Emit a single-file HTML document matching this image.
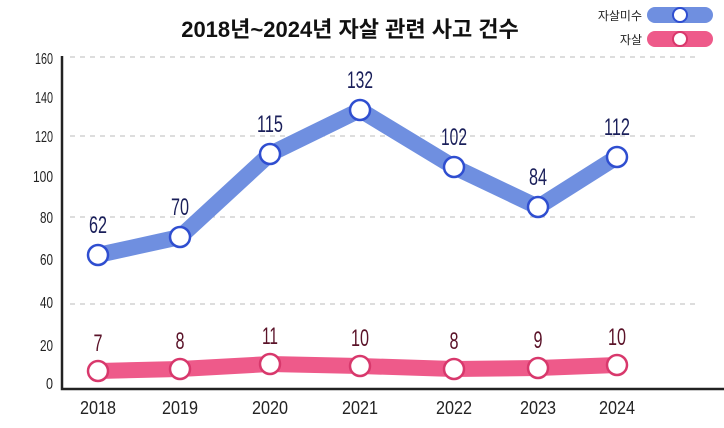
<!DOCTYPE html>
<html><head><meta charset="utf-8"><style>
body{margin:0;background:#fff;width:724px;height:423px;overflow:hidden}
text{font-family:"Liberation Sans Narrow","Liberation Sans","Noto Sans CJK KR",sans-serif}
</style></head><body>
<svg width="724" height="423" xmlns="http://www.w3.org/2000/svg">
<text x="350" y="37" text-anchor="middle" font-size="22" font-weight="bold" fill="#111" style="font-family:'Liberation Sans','Noto Sans CJK KR',sans-serif">2018년~2024년 자살 관련 사고 건수</text>
<g stroke="#bbb" stroke-width="1" stroke-dasharray="5,5">
<line x1="70" y1="57" x2="700" y2="57"/>
<line x1="70" y1="136" x2="700" y2="136"/>
<line x1="70" y1="217" x2="700" y2="217"/>
<line x1="70" y1="304" x2="700" y2="304"/>
</g>
<polyline points="62,56 62,389 724,389" fill="none" stroke="#222" stroke-width="2.5"/>
<g font-size="16" fill="#222" text-anchor="end" lengthAdjust="spacingAndGlyphs">
<text x="53" y="64" textLength="18" lengthAdjust="spacingAndGlyphs">160</text><text x="53" y="103" textLength="18" lengthAdjust="spacingAndGlyphs">140</text><text x="53" y="142" textLength="18" lengthAdjust="spacingAndGlyphs">120</text>
<text x="53" y="182" textLength="20" lengthAdjust="spacingAndGlyphs">100</text><text x="53" y="223" textLength="13" lengthAdjust="spacingAndGlyphs">80</text><text x="53" y="265" textLength="13" lengthAdjust="spacingAndGlyphs">60</text>
<text x="53" y="308" textLength="13" lengthAdjust="spacingAndGlyphs">40</text><text x="53" y="351" textLength="13" lengthAdjust="spacingAndGlyphs">20</text><text x="53" y="389" textLength="7" lengthAdjust="spacingAndGlyphs">0</text>
</g>
<g font-size="18" fill="#222" text-anchor="middle">
<text x="98" y="414" textLength="36" lengthAdjust="spacingAndGlyphs">2018</text><text x="180" y="414" textLength="36" lengthAdjust="spacingAndGlyphs">2019</text><text x="270" y="414" textLength="36" lengthAdjust="spacingAndGlyphs">2020</text>
<text x="360" y="414" textLength="36" lengthAdjust="spacingAndGlyphs">2021</text><text x="454" y="414" textLength="36" lengthAdjust="spacingAndGlyphs">2022</text><text x="538" y="414" textLength="36" lengthAdjust="spacingAndGlyphs">2023</text><text x="617" y="414" textLength="36" lengthAdjust="spacingAndGlyphs">2024</text>
</g>
<polyline points="98,255 180,237 270,154 360,110 454,167 538,207 617,157" fill="none" stroke="#6f8fe0" stroke-width="16" stroke-linejoin="round"/>
<polyline points="98,371 180,369 270,364 360,366 454,369 538,368 617,365" fill="none" stroke="#ee5a8a" stroke-width="16" stroke-linejoin="round"/>
<g fill="#fff" stroke="#2f4ed0" stroke-width="2.5">
<circle cx="98" cy="255" r="10"/><circle cx="180" cy="237" r="10"/><circle cx="270" cy="154" r="10"/>
<circle cx="360" cy="110" r="10"/><circle cx="454" cy="167" r="10"/><circle cx="538" cy="207" r="10"/><circle cx="617" cy="157" r="10"/>
</g>
<g fill="#fff" stroke="#d8386c" stroke-width="2.5">
<circle cx="98" cy="371" r="10"/><circle cx="180" cy="369" r="10"/><circle cx="270" cy="364" r="10"/>
<circle cx="360" cy="366" r="10"/><circle cx="454" cy="369" r="10"/><circle cx="538" cy="368" r="10"/><circle cx="617" cy="365" r="10"/>
</g>
<g font-size="24" fill="#1a1f5a" text-anchor="middle">
<text x="98" y="233" textLength="18" lengthAdjust="spacingAndGlyphs">62</text><text x="180" y="215" textLength="18" lengthAdjust="spacingAndGlyphs">70</text><text x="270" y="132" textLength="26" lengthAdjust="spacingAndGlyphs">115</text>
<text x="360" y="88" textLength="26" lengthAdjust="spacingAndGlyphs">132</text><text x="454" y="145" textLength="26" lengthAdjust="spacingAndGlyphs">102</text><text x="538" y="185" textLength="18" lengthAdjust="spacingAndGlyphs">84</text><text x="617" y="135" textLength="26" lengthAdjust="spacingAndGlyphs">112</text>
</g>
<g font-size="24" fill="#5a1228" text-anchor="middle">
<text x="98" y="351" textLength="9" lengthAdjust="spacingAndGlyphs">7</text><text x="180" y="349" textLength="9" lengthAdjust="spacingAndGlyphs">8</text><text x="270" y="344" textLength="16" lengthAdjust="spacingAndGlyphs">11</text>
<text x="360" y="346" textLength="18" lengthAdjust="spacingAndGlyphs">10</text><text x="454" y="349" textLength="9" lengthAdjust="spacingAndGlyphs">8</text><text x="538" y="348" textLength="9" lengthAdjust="spacingAndGlyphs">9</text><text x="617" y="345" textLength="18" lengthAdjust="spacingAndGlyphs">10</text>
</g>
<rect x="647" y="7" width="66" height="16" rx="8" fill="#6f8fe0"/>
<circle cx="680" cy="15" r="7" fill="#fff" stroke="#2f4ed0" stroke-width="2"/>
<rect x="647" y="31" width="66" height="16" rx="8" fill="#ee5a8a"/>
<circle cx="680" cy="39" r="7" fill="#fff" stroke="#d8386c" stroke-width="2"/>
<g font-size="12" fill="#222" text-anchor="end" style="font-family:'Liberation Sans','Noto Sans CJK KR',sans-serif">
<text x="642" y="20">자살미수</text><text x="642" y="44">자살</text>
</g>
</svg>
</body></html>
